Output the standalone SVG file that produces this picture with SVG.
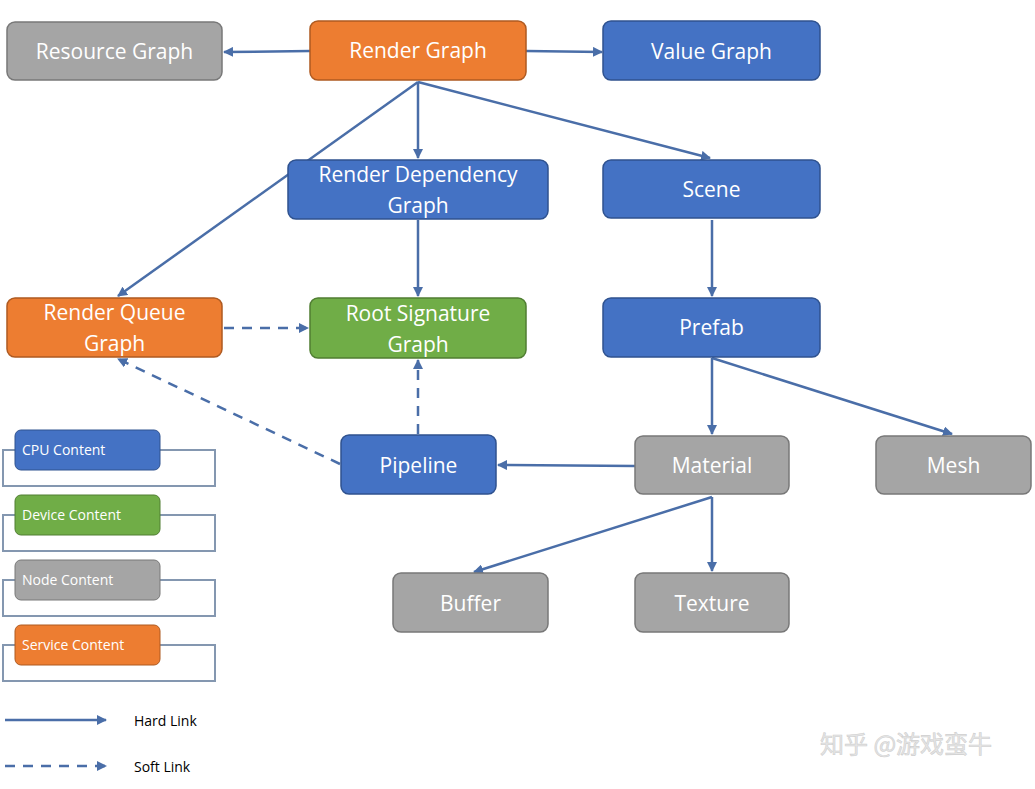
<svg xmlns="http://www.w3.org/2000/svg" width="1035" height="789" viewBox="0 0 1035 789">
<style>
.n rect{stroke-width:1.5}
.b{fill:#4472c4;stroke:#2f528f}.o{fill:#ed7d31;stroke:#ae5a21}.g{fill:#70ad47;stroke:#507e32}.y{fill:#a5a5a5;stroke:#787878}
.t{font-family:"Open Sans",sans-serif;font-size:21px;fill:#fff;text-anchor:middle}
.s{font-family:"Open Sans",sans-serif;font-size:14px;fill:#fff}
.l{font-family:"Open Sans",sans-serif;font-size:14px;fill:#000}
.c line{stroke:#4a6ea8;stroke-width:2.5;marker-end:url(#a)}
.c .d{stroke-dasharray:10 8}
.br{fill:none;stroke:#8497b0;stroke-width:2}
</style>
<defs><marker id="a" viewBox="0 0 10 10" refX="9" refY="5" markerWidth="4" markerHeight="4" orient="auto"><path d="M0,0L10,5L0,10z" fill="#4a6ea8"/></marker></defs>
<rect width="1035" height="789" fill="#fff"/>
<g class="c">
<line x1="310" y1="51" x2="224" y2="52"/>
<line x1="526" y1="51" x2="602" y2="52"/>
<line x1="418" y1="82" x2="418" y2="158"/>
<line x1="418" y1="82" x2="710" y2="158"/>
<line x1="418" y1="82" x2="118" y2="296"/>
<line x1="418" y1="220" x2="418" y2="296"/>
<line x1="712" y1="220" x2="712" y2="296"/>
<line class="d" x1="224" y1="328" x2="308" y2="328"/>
<line class="d" x1="418" y1="434" x2="418" y2="360"/>
<line class="d" x1="340" y1="464" x2="118" y2="359"/>
<line x1="635" y1="466" x2="498" y2="465"/>
<line x1="712" y1="358" x2="712" y2="434"/>
<line x1="712" y1="358" x2="952" y2="434"/>
<line x1="712" y1="497" x2="474" y2="572"/>
<line x1="712" y1="497" x2="712" y2="571"/>
<line x1="5" y1="720" x2="106" y2="720"/>
<line class="d" x1="5" y1="766" x2="106" y2="766"/>
</g>
<g id="resource" class="n"><rect class="y" x="7" y="22" width="215" height="58" rx="8"/><text class="t" x="114.5" y="59">Resource Graph</text></g>
<g id="render" class="n"><rect class="o" x="310" y="21" width="216" height="59" rx="8"/><text class="t" x="418" y="58">Render Graph</text></g>
<g id="value" class="n"><rect class="b" x="603" y="21" width="217" height="59" rx="8"/><text class="t" x="711.5" y="59">Value Graph</text></g>
<g id="rdg" class="n"><rect class="b" x="288" y="160" width="260" height="59" rx="8"/><text class="t" x="418" y="182">Render Dependency</text><text class="t" x="418" y="213">Graph</text></g>
<g id="scene" class="n"><rect class="b" x="603" y="160" width="217" height="58" rx="8"/><text class="t" x="711.5" y="197">Scene</text></g>
<g id="rqg" class="n"><rect class="o" x="7" y="298" width="215" height="59" rx="8"/><text class="t" x="114.5" y="320">Render Queue</text><text class="t" x="114.5" y="351">Graph</text></g>
<g id="rsg" class="n"><rect class="g" x="310" y="298" width="216" height="60" rx="8"/><text class="t" x="418" y="321">Root Signature</text><text class="t" x="418" y="352">Graph</text></g>
<g id="prefab" class="n"><rect class="b" x="603" y="298" width="217" height="59" rx="8"/><text class="t" x="711.5" y="335">Prefab</text></g>
<g id="pipeline" class="n"><rect class="b" x="341" y="435" width="155" height="59" rx="8"/><text class="t" x="418.5" y="473">Pipeline</text></g>
<g id="material" class="n"><rect class="y" x="635" y="436" width="154" height="58" rx="8"/><text class="t" x="712" y="473">Material</text></g>
<g id="mesh" class="n"><rect class="y" x="876" y="436" width="155" height="58" rx="8"/><text class="t" x="953.5" y="473">Mesh</text></g>
<g id="buffer" class="n"><rect class="y" x="393" y="573" width="155" height="59" rx="8"/><text class="t" x="470.5" y="611">Buffer</text></g>
<g id="texture" class="n"><rect class="y" x="635" y="573" width="154" height="59" rx="8"/><text class="t" x="712" y="611">Texture</text></g>
<g id="legend">
<rect class="br" x="3" y="450" width="212" height="36"/>
<rect class="br" x="3" y="515" width="212" height="36"/>
<rect class="br" x="3" y="580" width="212" height="36"/>
<rect class="br" x="3" y="645" width="212" height="36"/>
<rect class="b" x="15" y="430" width="145" height="40" rx="6"/><text class="s" x="22" y="455">CPU Content</text>
<rect class="g" x="15" y="495" width="145" height="40" rx="6"/><text class="s" x="22" y="520">Device Content</text>
<rect class="y" x="15" y="560" width="145" height="40" rx="6"/><text class="s" x="22" y="585">Node Content</text>
<rect class="o" x="15" y="625" width="145" height="40" rx="6"/><text class="s" x="22" y="650">Service Content</text>
<text class="l" x="134" y="726">Hard Link</text>
<text class="l" x="134" y="772">Soft Link</text>
</g>
<text x="820" y="753" font-family="'Noto Sans CJK SC',sans-serif" font-size="24" fill="#e6e6e6" stroke="#cfcfcf" stroke-width="0.6">知乎 @游戏蛮牛</text>
</svg>
